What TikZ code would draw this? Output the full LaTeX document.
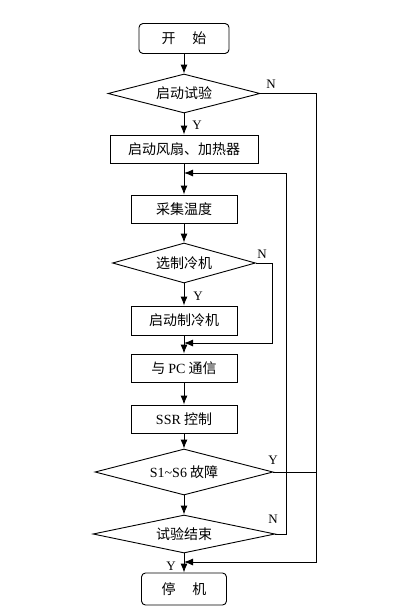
\documentclass[tikz,border=0pt]{standalone}
\usepackage{fontspec}
\usepackage{tikz}
\usetikzlibrary{shapes.geometric,arrows.meta}
\setmainfont{Liberation Serif}
\newfontfamily\cjk{Noto Sans CJK SC}
\newcommand{\enword}[1]{{\rmfamily #1}}

\begin{document}
\begin{tikzpicture}[x=1pt, y=-1pt, >={Latex[length=9pt,width=7pt]}, line width=0.9pt]
        % Styles
        \tikzset{terminal/.style={rectangle, draw, rounded corners=4pt, minimum width=90pt, minimum height=30pt, inner sep=0pt, font=\cjk\fontsize{14}{16}\selectfont}}
        \tikzset{process/.style={rectangle, draw, minimum width=106pt, minimum height=28pt, inner sep=0pt, font=\cjk\fontsize{14}{16}\selectfont}}
        \tikzset{decision/.style={diamond, draw, aspect=3.8, inner sep=0pt, minimum height=40pt, font=\cjk\fontsize{14}{16}\selectfont}}
        \tikzset{yn/.style={font=\fontsize{13}{14}\selectfont}}
        \useasboundingbox (0,0) rectangle (402,616);

        % Steps
        \node[terminal] (start) at (184,38.5) {开\hspace{1.2em}始};
        \node[decision, below of=start, node distance=55pt, minimum width=152pt, minimum height=39pt] (trial) {启动试验};
        \node[process, below of=trial, node distance=55.5pt, minimum width=148pt] (fan) {启动风扇、加热器};
        \node[process, below of=fan, node distance=60pt] (sample) {采集温度};
        \node[decision, below of=sample, node distance=54pt, minimum width=143pt] (cooler) {选制冷机};
        \node[process, below of=cooler, node distance=57.5pt, minimum height=29pt] (cooling) {启动制冷机};
        \node[process, below of=cooling, node distance=47.5pt] (pc) {与 \enword{PC} 通信};
        \node[process, below of=pc, node distance=51pt] (ssr) {\enword{SSR} 控制};
        \node[decision, below of=ssr, node distance=53pt, minimum width=178pt, minimum height=46pt] (fault) {\enword{S1\textasciitilde S6} 故障};
        \node[decision, below of=fault, node distance=62pt, minimum width=182pt, minimum height=38pt] (finish) {试验结束};
        \node[terminal, below of=finish, node distance=55pt, minimum width=85pt, minimum height=32pt] (stop) {停\hspace{1.2em}机};

        % Bends
        \coordinate (j1) at (184,173);
        \coordinate (j2) at (184,343);
        \coordinate (j3) at (184,562);
        \coordinate (outer) at (316,0);
        \coordinate (inner) at (286,0);
        \coordinate (bypass) at (272,0);

        % Connections
        \draw[->] (start) -- (trial);
        \draw[->] (trial) -- (fan);
        \draw[->] (fan) -- (sample);
        \draw[->] (sample) -- (cooler);
        \draw[->] (cooler) -- (cooling);
        \draw[->] (cooling) -- (pc);
        \draw[->] (pc) -- (ssr);
        \draw[->] (ssr) -- (fault);
        \draw[->] (fault) -- (finish);
        \draw[->] (finish) -- (stop);
        \draw[->] (trial.east) -- (trial.east -| outer) -- (outer |- j3) -- (j3);
        \draw (fault.east) -- (fault.east -| outer);
        \draw[->] (finish.east) -- (finish.east -| inner) -- (inner |- j1) -- (j1);
        \draw[->] (cooler.east) -- (cooler.east -| bypass) -- (bypass |- j2) -- (j2);

        % Labels
        \node[yn] (n1) at (271,84) {N};
        \node[yn] (y1) at (197,125) {Y};
        \node[yn] (n2) at (262,254) {N};
        \node[yn] (y2) at (198,296) {Y};
        \node[yn] (y3) at (273,460) {Y};
        \node[yn] (n4) at (273,519) {N};
        \node[yn] (y4) at (171,566) {Y};
    \end{tikzpicture}
\end{document}
